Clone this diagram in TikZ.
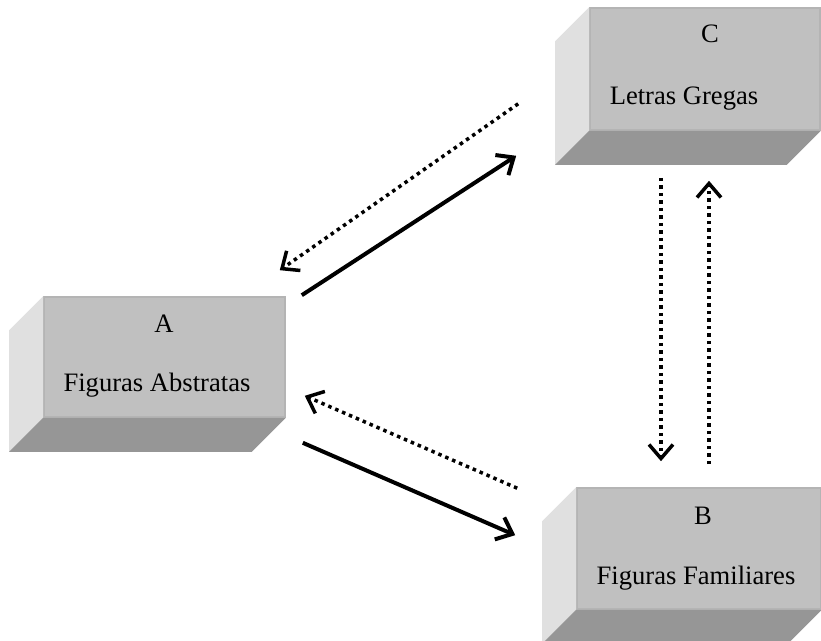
\documentclass[tikz,border=0pt]{standalone}
\usepackage{fontspec}
\setmainfont{Liberation Serif}
\usetikzlibrary{arrows.meta}
\definecolor{facegray}{RGB}{192,192,192}
\definecolor{edgegray}{RGB}{180,180,180}
\definecolor{leftgray}{RGB}{224,224,224}
\definecolor{lowgray}{RGB}{150,150,150}

\begin{document}
\begin{tikzpicture}[x=0.5pt, y=-0.5pt,
    every node/.style={font=\fontsize{13.3}{16}\selectfont},
    face/.style={fill=facegray, draw=edgegray, line width=0.8pt, inner sep=0pt},
    solidarr/.style={line width=2pt, -{Straight Barb[length=7pt,width=12pt]}},
    dotarr/.style={solidarr, line width=1.75pt, dash pattern=on 1.75pt off 2pt}]
    \useasboundingbox (0,0) rectangle (821,641);
    \foreach \bx/\pos/\w/\h in {A/{(164.5,357)}/120.5pt/60pt,
        C/{(705,69)}/115pt/61pt, B/{(699,548.5)}/122pt/60.5pt} {
        \node[face, minimum width=\w, minimum height=\h] (f-\bx) at \pos {};
        \fill[leftgray] (f-\bx.north west) -- (f-\bx.south west)
            -- ([shift={(-17pt,-17pt)}]f-\bx.south west)
            -- ([shift={(-17pt,-17pt)}]f-\bx.north west) -- cycle;
        \fill[lowgray] (f-\bx.south west) -- (f-\bx.south east)
            -- ([shift={(-17pt,-17pt)}]f-\bx.south east)
            -- ([shift={(-17pt,-17pt)}]f-\bx.south west) -- cycle;
    }
    \node[anchor=base] (n-1-A) at (164,333) {A};
    \node[anchor=base] (n-2-A) at (157,392) {Figuras Abstratas};
    \node[anchor=base] (n-1-C) at (710,43) {C};
    \node[anchor=base] (n-2-C) at (684,105) {Letras Gregas};
    \node[anchor=base] (n-1-B) at (703,525) {B};
    \node[anchor=base] (n-2-B) at (696,585) {Figuras Familiares};
    % A <-> C
    \draw[solidarr] ([shift={(16,-1)}]f-A.north east) -- ([shift={(-73,25)}]f-C.south west);
    \draw[dotarr] ([shift={(-71,-27)}]f-C.south west) -- ([shift={(-6,-26)}]f-A.north east);
    % A <-> B
    \draw[solidarr] ([shift={(17,25)}]f-A.south east) -- ([shift={(-61,48)}]f-B.north west);
    \draw[dotarr] ([shift={(-59,1)}]f-B.north west) -- ([shift={(19,-22)}]f-A.south east);
    % C <-> B
    \draw[dotarr] ([shift={(-44,47)}]f-C.south) -- ([shift={(-38,-26)}]f-B.north);
    \draw[dotarr] ([shift={(10,-23)}]f-B.north) -- ([shift={(4,50)}]f-C.south);
\end{tikzpicture}
\end{document}
